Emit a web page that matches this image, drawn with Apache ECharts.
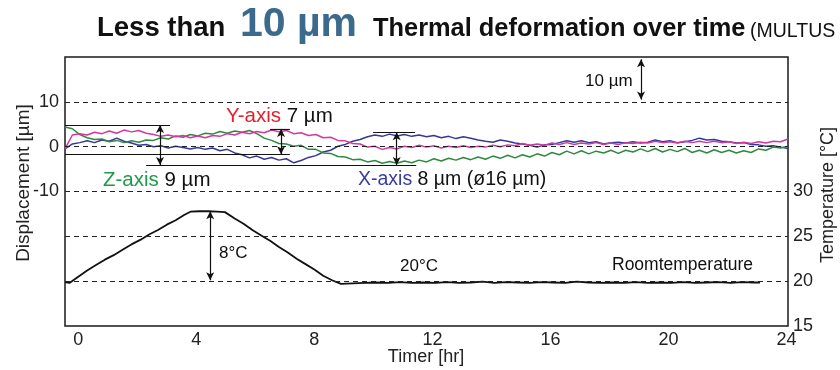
<!DOCTYPE html>
<html>
<head>
<meta charset="utf-8">
<script src="https://cdn.jsdelivr.net/npm/echarts@6/dist/echarts.min.js"></script>
<style>
html,body{margin:0;padding:0;background:#fff;}
#chart{width:840px;height:370px;}
</style>
</head>
<body>
<div id="chart"></div>
<script>
// ---- DATA ----
const sampleHours = [-0.45,-0.2,0.05,0.3,0.55,0.8,1.05,1.3,1.55,1.8,2.05,2.3,2.55,2.8,3.05,3.3,3.55,3.8,4.05,4.3,4.55,4.8,5.05,5.3,5.55,5.8,6.05,6.3,6.55,6.8,7.05,7.3,7.55,7.8,8.05,8.3,8.55,8.8,9.05,9.3,9.55,9.8,10.05,10.3,10.55,10.8,11.05,11.3,11.55,11.8,12.05,12.3,12.55,12.8,13.05,13.3,13.55,13.8,14.05,14.3,14.55,14.8,15.05,15.3,15.55,15.8,16.05,16.3,16.55,16.8,17.05,17.3,17.55,17.8,18.05,18.3,18.55,18.8,19.05,19.3,19.55,19.8,20.05,20.3,20.55,20.8,21.05,21.3,21.55,21.8,22.05,22.3,22.55,22.8,23.05,23.3,23.55,23.8,24.05];

// X-axis displacement [µm] (blue)
const xAxisDisp = [-0.5,0.6,0.9,1.3,0.9,1.5,1.2,1.9,1.2,0.8,
  0.3,0.5,0.0,0.2,-0.3,0.1,-0.2,-0.5,-0.2,-0.6,
  -0.3,-0.9,-0.6,-1.4,-1.8,-2.5,-2.1,-2.8,-2.4,-3.0,
  -2.7,-3.6,-3.1,-2.4,-2.0,-1.2,-0.8,0.1,0.5,1.2,
  1.6,2.2,2.6,2.3,2.8,2.4,2.7,2.3,2.6,2.2,
  2.5,2.0,2.3,1.8,2.2,1.9,1.5,1.2,1.0,1.5,
  1.2,0.8,0.6,0.3,-0.1,0.4,0.5,0.9,1.3,1.0,
  1.3,0.9,1.1,0.6,0.9,1.0,0.8,1.1,0.8,1.0,
  1.5,1.1,1.3,0.9,1.1,1.4,1.9,1.5,1.6,1.2,
  1.1,0.8,0.9,0.5,0.4,0.1,0.2,-0.1,-0.4];

// Y-axis displacement [µm] (magenta)
const yAxisDisp = [-0.5,2.6,2.9,2.6,3.2,2.9,3.5,3.0,3.7,3.3,
  3.6,3.0,2.7,2.3,2.6,2.2,2.5,2.0,2.4,2.0,
  2.5,2.3,2.9,2.6,3.2,2.9,3.4,3.1,3.7,3.3,
  3.6,2.9,3.1,2.5,2.7,2.0,2.1,1.4,1.3,0.7,
  0.6,-0.1,0.1,-0.6,-0.2,-0.5,0.1,-0.2,0.3,-0.1,
  0.2,-0.3,0.1,-0.2,0.2,-0.2,0.1,-0.1,0.3,0.0,
  0.4,0.2,0.7,0.3,0.6,0.3,0.8,0.5,0.9,0.5,
  0.8,0.6,0.9,0.5,0.8,0.5,0.9,0.7,1.0,0.8,
  1.2,0.9,1.1,0.8,1.2,0.9,1.2,0.9,1.2,0.9,
  1.1,0.7,1.0,0.7,1.1,0.8,1.2,1.1,1.7];

// Z-axis displacement [µm] (green)
const zAxisDisp = [4.4,4.0,2.7,2.0,1.6,1.7,1.1,1.4,0.9,1.3,
  1.0,1.5,1.4,2.0,1.7,2.4,2.1,2.7,2.4,3.0,
  2.8,3.4,3.0,3.5,3.2,3.6,2.9,1.9,1.4,0.7,
  0.6,0.1,0.3,-0.6,-0.6,-1.4,-1.5,-2.2,-2.3,-2.9,
  -2.8,-3.4,-3.1,-3.7,-3.3,-3.7,-3.2,-3.6,-3.0,-3.4,
  -2.7,-3.2,-2.6,-3.0,-2.4,-2.9,-2.3,-2.8,-2.1,-2.6,
  -1.9,-2.5,-1.8,-2.3,-1.6,-2.1,-1.3,-1.8,-1.0,-1.6,
  -0.9,-1.6,-1.0,-1.4,-0.8,-1.5,-0.8,-1.2,-0.5,-1.1,
  -0.4,-1.2,-0.6,-1.1,-0.4,-1.3,-0.8,-1.4,-0.7,-1.3,
  -0.8,-1.4,-0.9,-1.3,-0.5,-0.8,-0.1,-0.3,0.1];

// Room temperature [°C]
const tempHours = [-0.45,-0.3,0.0,0.3,0.6,0.9,1.2,1.5,1.8,2.1,2.4,2.7,3.0,3.3,3.6,3.8,4.1,4.4,4.7,4.97,5.3,5.6,5.9,6.2,6.5,6.8,7.1,7.4,7.7,8.0,8.3,8.6,8.9,9.3,9.7,10.1,10.5,10.9,11.3,11.7,12.1,12.5,12.9,13.3,13.7,14.1,14.5,14.9,15.3,15.7,16.1,16.5,16.9,17.3,17.7,18.1,18.5,18.9,19.3,19.7,20.1,20.5,20.9,21.3,21.7,22.1,22.5,22.9,23.1];
const tempValues = [19.9,19.8,20.5,21.2,21.8,22.4,22.9,23.5,24.1,24.6,25.2,25.7,26.3,26.8,27.4,27.75,27.8,27.8,27.75,27.7,27.0,26.4,25.7,25.1,24.5,23.8,23.2,22.5,21.9,21.3,20.6,20.1,19.7,19.75,19.8,19.85,19.8,19.9,19.8,19.85,19.8,19.9,19.8,19.85,19.95,19.8,19.9,19.85,19.8,19.9,19.85,19.8,19.95,19.85,19.8,19.85,19.8,19.9,19.8,19.85,19.8,19.9,19.8,19.85,19.9,19.8,19.9,19.85,19.85];

// Axis tick labels
const timeTicks = [0,4,8,12,16,20,24];
const dispTicks = [-10,0,10];
const tempTicks = [15,20,25,30];
// Dashed reference levels (displacement units; -20/-30 coincide with 25/20 °C)
const dashedLevels = [10,0,-10,-20,-30];

// Annotated ranges (hours, µm / °C)
const rangeBars = [
  [[-0.45,4.84],[3.11,4.84]],
  [[-0.45,-1.7],[7.17,-1.7]],
  [[6.5,3.95],[7.17,3.95]],
  [[2.3,-4.1],[11.45,-4.1]],
  [[9.99,3.2],[11.41,3.2]]
];
const rangeArrows = [
  [[2.77,4.84],[2.77,-4.1]],
  [[6.87,3.95],[6.87,-1.7]],
  [[10.79,3.2],[10.79,-4.1]],
  [[19.07,19.5],[19.07,10.5]]
];
const tempArrow = [[4.47,27.8],[4.47,20.1]];

// ---- CHART ----
const FONT = '"Liberation Sans", Arial, Helvetica, sans-serif';
const pair = (xs, ys) => xs.map((x, i) => [x, ys[i]]);
const chart = echarts.init(document.getElementById('chart'), null, {renderer: 'canvas'});

const option = {
  animation: false,
  backgroundColor: '#fff',
  grid: {left: 65, right: 52, top: 57, bottom: 44, containLabel: false, outerBoundsMode: 'none',
    show: true, borderColor: '#1a1a1a', borderWidth: 1.5, backgroundColor: 'transparent'},
  xAxis: {
    type: 'value', min: -0.45, max: 24.05,
    axisLine: {show: false}, axisTick: {show: false}, splitLine: {show: false},
    axisLabel: {customValues: timeTicks, fontSize: 18, color: '#222', fontFamily: FONT, margin: 5}
  },
  yAxis: [
    {
      type: 'value', min: -40, max: 20, interval: 10,
      axisLine: {show: false}, axisTick: {show: false}, splitLine: {show: false},
      axisLabel: {customValues: dispTicks, fontSize: 18, color: '#222', fontFamily: FONT, margin: 6}
    },
    {
      type: 'value', min: 15, max: 45, interval: 5, position: 'right',
      axisLine: {show: false}, axisTick: {show: false}, splitLine: {show: false},
      axisLabel: {customValues: tempTicks, fontSize: 18, color: '#222', fontFamily: FONT, margin: 5}
    }
  ],
  series: [
    {
      name: 'X-axis', type: 'line', yAxisIndex: 0, symbol: 'none', z: 3,
      data: pair(sampleHours, xAxisDisp),
      lineStyle: {color: '#35389a', width: 1.5},
      markLine: {
        silent: true, symbol: 'none', label: {show: false},
        lineStyle: {color: '#222', width: 1, type: [5, 4]},
        data: dashedLevels.map(v => ({yAxis: v}))
      }
    },
    {
      name: 'Y-axis', type: 'line', yAxisIndex: 0, symbol: 'none', z: 4,
      data: pair(sampleHours, yAxisDisp),
      lineStyle: {color: '#d2399f', width: 1.5},
      markLine: {
        silent: true, symbol: 'none', label: {show: false},
        lineStyle: {color: '#111', width: 1.2, type: 'solid'},
        data: rangeBars.map(b => [{coord: b[0]}, {coord: b[1]}])
      }
    },
    {
      name: 'Z-axis', type: 'line', yAxisIndex: 0, symbol: 'none', z: 3,
      data: pair(sampleHours, zAxisDisp),
      lineStyle: {color: '#2e8a3f', width: 1.5},
      markLine: {
        silent: true, symbol: ['arrow', 'arrow'], symbolSize: [6, 8], label: {show: false},
        lineStyle: {color: '#111', width: 1.2, type: 'solid'},
        data: rangeArrows.map(b => [{coord: b[0]}, {coord: b[1]}])
      }
    },
    {
      name: 'Room temperature', type: 'line', yAxisIndex: 1, symbol: 'none', z: 3,
      data: pair(tempHours, tempValues),
      lineStyle: {color: '#111', width: 1.8},
      markLine: {
        silent: true, symbol: ['arrow', 'arrow'], symbolSize: [6, 8], label: {show: false},
        lineStyle: {color: '#111', width: 1.2, type: 'solid'},
        data: [[{coord: tempArrow[0]}, {coord: tempArrow[1]}]]
      }
    }
  ],
  graphic: [
    {type: 'text', x: 97, y: 28.8, style: {text: 'Less than', font: 'bold 27.5px ' + FONT, fill: '#111', verticalAlign: 'middle'}},
    {type: 'text', x: 240, y: 24.6, style: {text: '10 µm', font: 'bold 41px ' + FONT, fill: '#3b6a8c', verticalAlign: 'middle'}},
    {type: 'text', x: 373, y: 29.4, style: {text: 'Thermal deformation over time', font: 'bold 25.4px ' + FONT, fill: '#111', verticalAlign: 'middle'}},
    {type: 'text', x: 750, y: 31.5, style: {text: '(MULTUS', font: '19.5px ' + FONT, fill: '#111', verticalAlign: 'middle'}},
    {type: 'text', x: 24, y: 183, rotation: Math.PI / 2, style: {text: 'Displacement [µm]', font: '19px ' + FONT, fill: '#222', align: 'center', verticalAlign: 'middle'}},
    {type: 'text', x: 828, y: 195, rotation: Math.PI / 2, style: {text: 'Temperature [°C]', font: '18px ' + FONT, fill: '#222', align: 'center', verticalAlign: 'middle'}},
    {type: 'text', x: 426, y: 357, style: {text: 'Timer [hr]', font: '18px ' + FONT, fill: '#222', align: 'center', verticalAlign: 'middle'}},
    {type: 'text', x: 226, y: 116.5, style: {
      text: '{r|Y-axis} {k|7 µm}', verticalAlign: 'middle',
      rich: {r: {fill: '#e5212d', font: '20.5px ' + FONT}, k: {fill: '#111', font: '20.5px ' + FONT}}, font: '20.5px ' + FONT}},
    {type: 'text', x: 103, y: 180, style: {
      text: '{g|Z-axis} {k|9 µm}', verticalAlign: 'middle',
      rich: {g: {fill: '#1e9a48', font: '20.5px ' + FONT}, k: {fill: '#111', font: '20.5px ' + FONT}}, font: '20.5px ' + FONT}},
    {type: 'text', x: 358, y: 180, style: {
      text: '{b|X-axis} {k|8 µm (ø16 µm)}', verticalAlign: 'middle',
      rich: {b: {fill: '#3a3c9e', font: '19.5px ' + FONT}, k: {fill: '#111', font: '19.5px ' + FONT}}, font: '19.5px ' + FONT}},
    {type: 'text', x: 585, y: 81, style: {text: '10 µm', font: '17px ' + FONT, fill: '#111', verticalAlign: 'middle'}},
    {type: 'text', x: 219, y: 253, style: {text: '8°C', font: '17px ' + FONT, fill: '#111', verticalAlign: 'middle'}},
    {type: 'text', x: 400, y: 266, style: {text: '20°C', font: '17px ' + FONT, fill: '#111', verticalAlign: 'middle'}},
    {type: 'text', x: 612, y: 265, style: {text: 'Roomtemperature', font: '17.5px ' + FONT, fill: '#111', verticalAlign: 'middle'}}
  ]
};
chart.setOption(option);
</script>
</body>
</html>
